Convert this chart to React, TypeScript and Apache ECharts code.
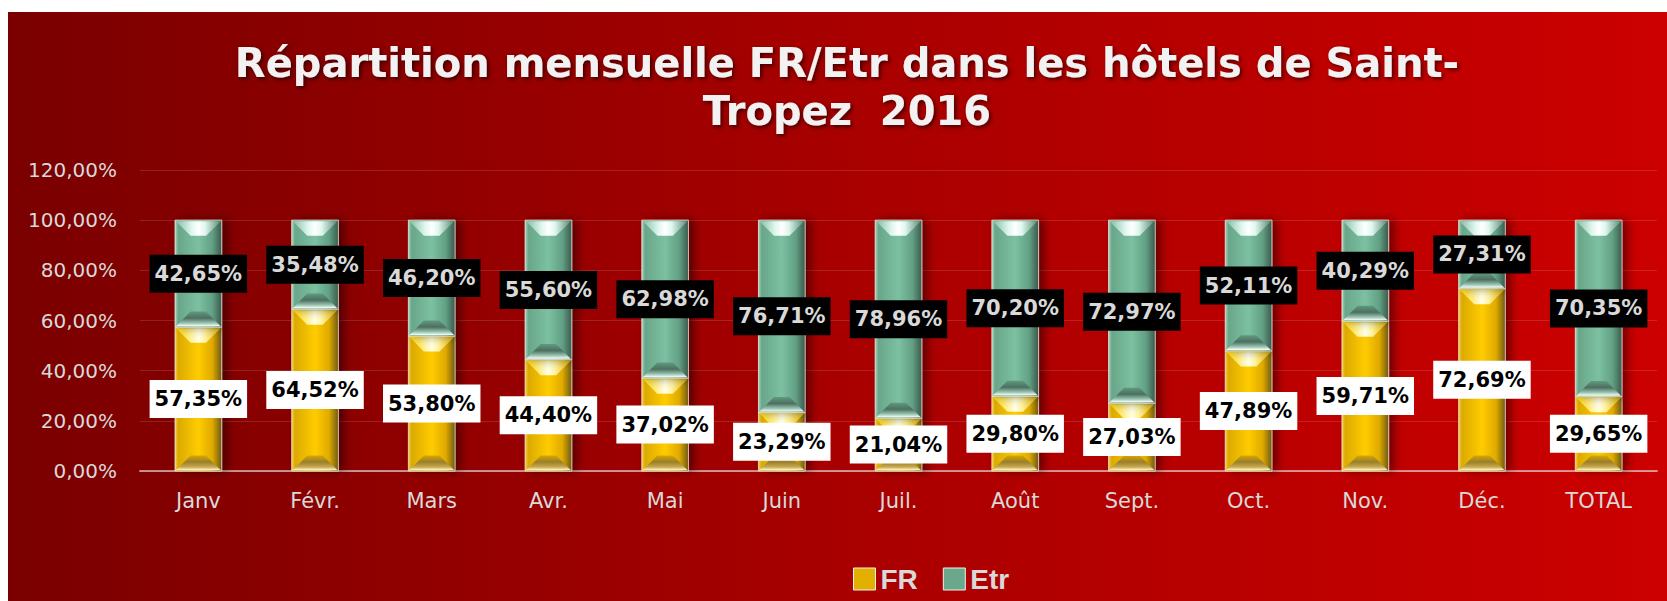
import React, { useEffect, useRef } from "react";
import * as echarts from "echarts";

const CATEGORIES = ["Janv", "Févr.", "Mars", "Avr.", "Mai", "Juin", "Juil.", "Août", "Sept.", "Oct.", "Nov.", "Déc.", "TOTAL"];
const FR = [57.35, 64.52, 53.8, 44.4, 37.02, 23.29, 21.04, 29.8, 27.03, 47.89, 59.71, 72.69, 29.65];
const ETR = [42.65, 35.48, 46.2, 55.6, 62.98, 76.71, 78.96, 70.2, 72.97, 52.11, 40.29, 27.31, 70.35];
const SERIES_NAMES = ["FR", "Etr"];
const TITLE = "Répartition mensuelle FR/Etr dans les hôtels de Saint-\nTropez  2016";

const fmt = (v: number) => v.toFixed(2).replace(".", ",") + "%";

const lg = (x2: number, y2: number, stops: [number, string][]) =>
  new echarts.graphic.LinearGradient(0, 0, x2, y2, stops.map(([offset, color]) => ({ offset, color })));

const BODY = [
  lg(1, 0, [[0, "#f5d04a"], [0.07, "#dcaa00"], [0.5, "#ffcc00"], [0.8, "#e0aa00"], [1, "#6e5a12"]]),
  lg(1, 0, [[0, "#a8d8c2"], [0.07, "#69a68a"], [0.5, "#7cc0a2"], [0.8, "#62a084"], [1, "#3a5a4c"]]),
];
const TOPB = [
  lg(1, 0, [[0, "#ffd000"], [0.35, "#fff2a0"], [0.5, "#ffffe8"], [0.65, "#fff2a0"], [1, "#e0b000"]]),
  lg(1, 0, [[0, "#86bca4"], [0.35, "#dff7ee"], [0.5, "#ffffff"], [0.65, "#dff7ee"], [1, "#5a8a76"]]),
];
const BOTB = [
  lg(0, 1, [[0, "#d8a800"], [0.45, "#9a7e2a"], [0.8, "#c8aa50"], [1, "#fff6d0"]]),
  lg(0, 1, [[0, "#5f9a80"], [0.45, "#4d6f60"], [0.8, "#9cc8b4"], [1, "#ffffff"]]),
];

const LEGEND_COLORS = ["#e2b000", "#6aa88c"];

export default function App() {
  const ref = useRef<HTMLDivElement>(null);
  useEffect(() => {
    if (!ref.current) return;
    const chart = echarts.init(ref.current, undefined, { renderer: "svg" });
    const segs: number[][] = [];
    CATEGORIES.forEach((_, i) => {
      segs.push([i, 0, FR[i], 0]);
      segs.push([i, FR[i], FR[i] + ETR[i], 1]);
    });
    const renderItem = (params: any, api: any) => {
      const idx = api.value(0);
      const s = api.value(1);
      const e = api.value(2);
      const k = api.value(3);
      const p0 = api.coord([idx, s]);
      const p1 = api.coord([idx, e]);
      const band = api.size([1, 0])[0];
      const w = band * 0.4;
      const left = p0[0] - w / 2;
      const right = left + w;
      const top = p1[1];
      const bottom = p0[1];
      const h = bottom - top;
      const b = Math.min(16, h / 3, w / 3);
      return {
        type: "group",
        children: [
          {
            type: "rect",
            shape: { x: left, y: top, width: w, height: h },
            style: {
              fill: BODY[k],
              stroke: "rgba(235,235,225,0.75)",
              lineWidth: 1,
              shadowBlur: 10,
              shadowOffsetX: 5,
              shadowColor: "rgba(0,0,0,0.45)",
            },
          },
          {
            type: "polygon",
            shape: { points: [[left + 1, top + 1], [right - 1, top + 1], [right - b, top + b], [left + b, top + b]] },
            style: { fill: TOPB[k] },
          },
          {
            type: "polygon",
            shape: { points: [[left + b, bottom - b], [right - b, bottom - b], [right - 1, bottom - 1], [left + 1, bottom - 1]] },
            style: { fill: BOTB[k] },
          },
        ],
      };
    };
    const labelBase = {
      show: true,
      position: "inside",
      fontFamily: "DejaVu Sans",
      fontWeight: "bold",
      fontSize: 21,
      lineHeight: 26,
      padding: [6, 5, 6, 5],
      formatter: (p: any) => fmt(p.value),
    };
    chart.setOption({
      animation: false,
      backgroundColor: {
        type: "linear",
        x: 0,
        y: 0,
        x2: 1,
        y2: 0,
        colorStops: [
          { offset: 0, color: "#7a0000" },
          { offset: 0.5, color: "#a80000" },
          { offset: 1, color: "#cc0000" },
        ],
      },
      title: {
        text: TITLE,
        left: 834,
        top: 22,
        textAlign: "center",
        textStyle: {
          color: "#f2f2f2",
          fontFamily: "DejaVu Sans",
          fontWeight: "bold",
          fontSize: 40,
          lineHeight: 48,
          textShadowColor: "rgba(0,0,0,0.6)",
          textShadowBlur: 4,
          textShadowOffsetX: 2,
          textShadowOffsetY: 2,
        },
      },
      legend: {
        left: 840,
        top: 548,
        itemWidth: 22,
        itemHeight: 22,
        itemGap: 25,
        icon: "rect",
        selectedMode: false,
        data: SERIES_NAMES.map((n, i) => ({
          name: n,
          itemStyle: { color: LEGEND_COLORS[i], borderColor: "#f0f0f0", borderWidth: 1 },
        })),
        textStyle: { color: "#d9d9d9", fontFamily: "Liberation Sans", fontWeight: "bold", fontSize: 28 },
      },
      grid: { left: 132, right: 10, top: 158, bottom: 130 },
      xAxis: {
        type: "category",
        data: CATEGORIES,
        axisTick: { show: false },
        axisLine: { lineStyle: { color: "rgba(230,230,230,0.6)", width: 2 } },
        axisLabel: { color: "#d9d9d9", fontFamily: "DejaVu Sans", fontSize: 21, margin: 19 },
        z: 1,
      },
      yAxis: {
        type: "value",
        min: 0,
        max: 120,
        interval: 20,
        axisLine: { show: false },
        axisTick: { show: false },
        splitLine: { lineStyle: { color: "rgba(255,255,255,0.13)", width: 1 } },
        axisLabel: { color: "#d9d9d9", fontFamily: "DejaVu Sans", fontSize: 20, margin: 23, formatter: (v: number) => fmt(v) },
      },
      series: [
        {
          type: "custom",
          name: "bevel",
          silent: true,
          z: 2,
          data: segs,
          encode: { x: 0, y: [1, 2] },
          renderItem,
        },
        {
          name: SERIES_NAMES[0],
          type: "bar",
          stack: "total",
          barWidth: "40%",
          z: 10,
          data: FR,
          itemStyle: { color: "rgba(0,0,0,0)" },
          emphasis: { disabled: true },
          label: { ...labelBase, color: "#000000", backgroundColor: "#ffffff" },
        },
        {
          name: SERIES_NAMES[1],
          type: "bar",
          stack: "total",
          barWidth: "40%",
          z: 10,
          data: ETR,
          itemStyle: { color: "rgba(0,0,0,0)" },
          emphasis: { disabled: true },
          label: { ...labelBase, color: "#d9d9d9", backgroundColor: "#000000" },
        },
      ],
    });
    return () => chart.dispose();
  }, []);
  return <div ref={ref} style={{ position: "absolute", left: 8, top: 12, width: 1659, height: 589 }} />;
}
